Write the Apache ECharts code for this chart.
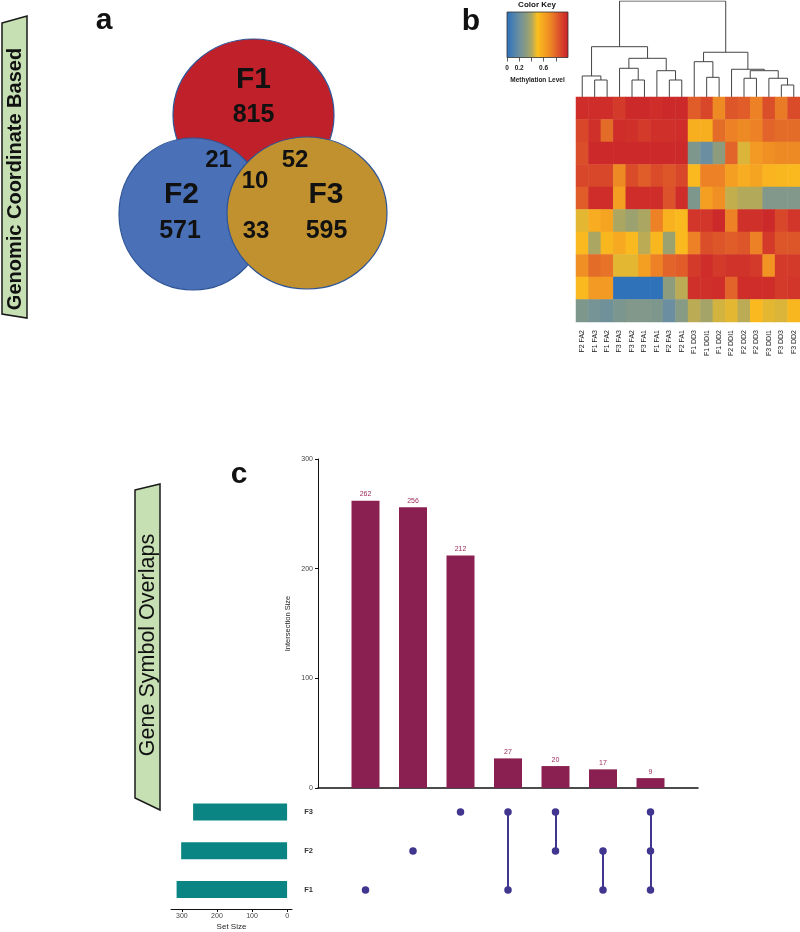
<!DOCTYPE html>
<html><head><meta charset="utf-8">
<script src="https://cdn.jsdelivr.net/npm/echarts@6/dist/echarts.min.js"></script>
<style>html,body{margin:0;padding:0;background:#fff}#c{width:800px;height:932px}</style>
</head><body><div id="c"></div>
<script>
const FONT = '"Liberation Sans", Arial, Helvetica, sans-serif';

// ---------- Panel a : Venn counts ----------
const vennSets = ['F1', 'F2', 'F3'];
const vennUnique = [815, 571, 595];
const vennF1F2 = 21;
const vennF1F3 = 52;
const vennF2F3 = 33;
const vennAll = 10;

// ---------- Panel b : methylation heatmap ----------
const hmColumns = ['F2 FA2','F1 FA3','F1 FA2','F3 FA3','F3 FA2','F3 FA1','F1 FA1','F2 FA3','F2 FA1',
                   'F1 DD3','F1 DDI1','F1 DD2','F2 DDI1','F2 DD2','F2 DD3','F3 DDI1','F3 DD3','F3 DD2'];
const hmRows = ['R1','R2','R3','R4','R5','R6','R7','R8','R9','R10'];
const hmValues = [
  [0.96,0.96,0.96,0.92,0.97,0.97,0.96,0.97,0.97, 0.82,0.88,0.70,0.84,0.82,0.72,0.86,0.74,0.87],
  [0.88,0.95,0.78,0.96,0.95,0.92,0.95,0.95,0.96, 0.56,0.56,0.78,0.72,0.70,0.72,0.80,0.78,0.78],
  [0.86,0.97,0.97,0.97,0.97,0.97,0.97,0.97,0.97, 0.27,0.20,0.32,0.80,0.46,0.64,0.68,0.70,0.70],
  [0.88,0.88,0.88,0.70,0.87,0.82,0.87,0.84,0.88, 0.52,0.72,0.72,0.62,0.57,0.60,0.54,0.53,0.52],
  [0.82,0.96,0.96,0.62,0.96,0.96,0.96,0.85,0.96, 0.27,0.62,0.68,0.43,0.41,0.41,0.28,0.28,0.28],
  [0.47,0.57,0.60,0.40,0.36,0.40,0.72,0.55,0.52, 0.93,0.93,0.97,0.72,0.95,0.95,0.97,0.88,0.93],
  [0.52,0.40,0.53,0.58,0.52,0.42,0.53,0.36,0.52, 0.72,0.86,0.84,0.82,0.84,0.72,0.92,0.84,0.84],
  [0.68,0.78,0.76,0.47,0.47,0.62,0.72,0.80,0.82, 0.92,0.96,0.92,0.94,0.94,0.92,0.66,0.92,0.92],
  [0.52,0.64,0.64,0.02,0.02,0.02,0.02,0.32,0.42, 0.95,0.95,0.96,0.80,0.96,0.96,0.96,0.92,0.93],
  [0.27,0.24,0.22,0.26,0.28,0.28,0.27,0.20,0.30, 0.42,0.38,0.45,0.47,0.42,0.52,0.47,0.46,0.53]
];
// hclust-style merges: negative = leaf (1-based column), positive = earlier merge; third = height
const dendroMerges = [
  [-2, -3, 17.7], [-1, 1, 21.9], [-5, -6, 17.7], [-4, 3, 29.9], [-8, -9, 17.7], [-7, 5, 27.4],
  [4, 6, 40.3], [2, 7, 52.4], [-11, -12, 20.5], [-10, 9, 36.8], [-14, -15, 19.5], [-17, -18, 12.5],
  [-16, 12, 19.5], [11, 13, 27.4], [-13, 14, 28.9], [10, 15, 46.6], [8, 16, 100]
];
const colorKeyColors = ['#2a6fbb','#4a80b0','#6b8fa0','#869a84','#aba662','#fbbf1e','#f5a422','#ee8a24','#e2642a','#d6402a','#c8202a'];
const colorKeyRange = [0, 1];
const colorKeyTicks = [0, 0.2, 0.4, 0.6, 0.8];
const colorKeyLabels = [0, 0.2, 0.6];

// ---------- Panel c : UpSet ----------
const upsetSets = ['F1', 'F2', 'F3'];
const setSizes = [315, 302, 268];
const intersectionSizes = [262, 256, 212, 27, 20, 17, 9];
const intersectionMembers = [['F1'], ['F2'], ['F3'], ['F1','F3'], ['F2','F3'], ['F1','F2'], ['F1','F2','F3']];
const intersectionTicks = [0, 100, 200, 300];
const setSizeTicks = [0, 100, 200, 300];

// ---------- build ----------
function dendroSegments(merges) {
  const pos = [], hgt = [], segs = [];
  const nx = n => n < 0 ? (-n - 1) : pos[n - 1];
  const nh = n => n < 0 ? 0 : hgt[n - 1];
  merges.forEach(([a, b, h]) => {
    const xa = nx(a), xb = nx(b);
    segs.push({ coords: [[xa, nh(a)], [xa, h], [xb, h], [xb, nh(b)]] });
    pos.push((xa + xb) / 2); hgt.push(h);
  });
  return segs;
}
const hmData = [];
hmValues.forEach((row, r) => row.forEach((v, c) => hmData.push([c, r, v])));

const dotData = [], linkData = [];
intersectionMembers.forEach((m, i) => {
  const idx = m.map(s => upsetSets.indexOf(s));
  idx.forEach(k => dotData.push([i + 1, k]));
  if (idx.length > 1) linkData.push({ coords: [[i + 1, Math.min(...idx)], [i + 1, Math.max(...idx)]] });
});

const keyStops = colorKeyColors.map((c, i) => ({ offset: i / (colorKeyColors.length - 1), color: c }));

function txt(text, x, y, size, opts) {
  opts = opts || {};
  return {
    type: 'text', x: x, y: y, rotation: opts.rot || 0, z: 100,
    style: { text: text, fill: opts.fill || '#111', font: (opts.weight || 'bold') + ' ' + size + 'px ' + FONT,
             align: 'center', verticalAlign: 'middle' }
  };
}

const vennLayout = [
  { cx: 253.5, cy: 115, rx: 80.5, ry: 76, fill: '#c0202a' },
  { cx: 193, cy: 214, rx: 74, ry: 76, fill: '#4a71b8' },
  { cx: 307, cy: 213, rx: 80, ry: 76, fill: '#c0912e' }
];

const graphics = [
  // banners
  { type: 'polygon', z: 1, shape: { points: [[2, 23], [27, 16], [27, 318], [2, 314]] },
    style: { fill: '#c6e0b4', stroke: '#1a1a1a', lineWidth: 1.5 } },
  txt('Genomic Coordinate Based', 15, 179, 20, { rot: Math.PI / 2 }),
  { type: 'polygon', z: 1, shape: { points: [[135, 490], [160, 484], [160, 810], [135, 798]] },
    style: { fill: '#c6e0b4', stroke: '#1a1a1a', lineWidth: 1.5 } },
  txt('Gene Symbol Overlaps', 148, 645, 21.5, { rot: Math.PI / 2, weight: 'normal' }),
  // panel letters
  txt('a', 104, 21, 30), txt('b', 471, 21.5, 30), txt('c', 239, 474.5, 30),
  // color key titles
  txt('Color Key', 537, 4.5, 8),
];
vennLayout.forEach(v => graphics.push({
  type: 'ellipse', z: 10, shape: { cx: v.cx, cy: v.cy, rx: v.rx, ry: v.ry },
  style: { fill: v.fill, stroke: '#2f5597', lineWidth: 1.2 }
}));
graphics.push(
  txt(vennSets[0], 253.5, 80, 30), txt(String(vennUnique[0]), 253.5, 115, 25),
  txt(vennSets[1], 181.5, 195, 30), txt(String(vennUnique[1]), 180, 231.5, 25),
  txt(vennSets[2], 326, 195, 30), txt(String(vennUnique[2]), 326.5, 231.5, 25),
  txt(String(vennF1F2), 218.5, 160, 24), txt(String(vennF1F3), 295, 160.5, 24),
  txt(String(vennAll), 255, 181.5, 24), txt(String(vennF2F3), 256, 231.5, 24)
);

const axLbl = { fontFamily: FONT, color: '#444', fontSize: 7 };
const blackLine = { show: true, lineStyle: { color: '#111', width: 1 } };

const option = {
  animation: false,
  textStyle: { fontFamily: FONT },
  grid: [
    { left: 576, top: 1, width: 225, height: 96 },
    { left: 576, top: 97, width: 225, height: 225 },
    { left: 507, top: 12, width: 61, height: 45.5 },
    { left: 318, top: 459, width: 380, height: 329 },
    { left: 318, top: 792.5, width: 380, height: 117 },
    { left: 171, top: 792.5, width: 121, height: 117 }
  ],
  xAxis: [
    { gridIndex: 0, type: 'value', min: -0.5, max: 17.5, show: false },
    { gridIndex: 1, type: 'category', data: hmColumns, axisLine: { show: false }, axisTick: { show: false },
      splitLine: { show: false },
      axisLabel: { rotate: 90, interval: 0, fontSize: 7, color: '#222', margin: 8, fontFamily: FONT } },
    { gridIndex: 2, type: 'value', min: colorKeyRange[0], max: colorKeyRange[1], axisLine: { show: false },
      splitLine: { show: false },
      axisTick: { show: true, customValues: colorKeyTicks, length: 4, lineStyle: { color: '#333', width: 0.8 } },
      axisLabel: { customValues: colorKeyLabels, fontSize: 6.5, fontWeight: 'bold', color: '#222', margin: 7, fontFamily: FONT },
      name: 'Methylation Level', nameLocation: 'middle', nameGap: 19,
      nameTextStyle: { fontSize: 6.5, fontWeight: 'bold', color: '#222', fontFamily: FONT } },
    { gridIndex: 3, type: 'value', min: 0, max: 8, axisLine: { show: true, lineStyle: { color: '#111', width: 1.5 } },
      axisTick: { show: false }, axisLabel: { show: false }, splitLine: { show: false } },
    { gridIndex: 4, type: 'value', min: 0, max: 8, show: false },
    { gridIndex: 5, type: 'value', inverse: true, min: -14, max: 331, axisLine: blackLine,
      splitLine: { show: false },
      axisTick: { show: true, customValues: setSizeTicks, length: 3, lineStyle: { color: '#111' } },
      axisLabel: Object.assign({ customValues: setSizeTicks, margin: 4 }, axLbl),
      name: 'Set Size', nameLocation: 'middle', nameGap: 14,
      nameTextStyle: { fontSize: 8, color: '#222', fontFamily: FONT } }
  ],
  yAxis: [
    { gridIndex: 0, type: 'value', min: 0, max: 100, show: false },
    { gridIndex: 1, type: 'category', data: hmRows, inverse: true, show: false },
    { gridIndex: 2, type: 'value', min: 0, max: 1, show: false },
    { gridIndex: 3, type: 'value', min: 0, max: 300, interval: 100, axisLine: blackLine,
      axisTick: { show: true, length: 3, lineStyle: { color: '#111' } },
      axisLabel: Object.assign({ margin: 5 }, axLbl), splitLine: { show: false },
      name: 'Intersection Size', nameLocation: 'middle', nameGap: 26,
      nameTextStyle: { fontSize: 7.5, color: '#222', fontFamily: FONT } },
    { gridIndex: 4, type: 'category', data: upsetSets, axisLine: { show: false }, axisTick: { show: false },
      splitLine: { show: false },
      axisLabel: { fontSize: 7.5, color: '#333', fontWeight: 'bold', margin: 5, fontFamily: FONT } },
    { gridIndex: 5, type: 'category', data: upsetSets, show: false }
  ],
  visualMap: {
    type: 'continuous', show: false, seriesIndex: 1, min: colorKeyRange[0], max: colorKeyRange[1],
    inRange: { color: colorKeyColors }
  },
  series: [
    { type: 'lines', coordinateSystem: 'cartesian2d', xAxisIndex: 0, yAxisIndex: 0, polyline: true, silent: true,
      data: dendroSegments(dendroMerges), lineStyle: { color: '#444', width: 1, opacity: 1 } },
    { type: 'heatmap', xAxisIndex: 1, yAxisIndex: 1, data: hmData, silent: true,
      itemStyle: { borderWidth: 0 } },
    { type: 'custom', xAxisIndex: 2, yAxisIndex: 2, silent: true, clip: false, data: [colorKeyRange],
      renderItem: (params, api) => {
        const p0 = api.coord([api.value(0), 0]);
        const p1 = api.coord([api.value(1), 1]);
        return { type: 'rect', shape: { x: p0[0], y: p1[1], width: p1[0] - p0[0], height: p0[1] - p1[1] },
          style: { fill: new echarts.graphic.LinearGradient(0, 0, 1, 0, keyStops), stroke: '#333', lineWidth: 0.8 } };
      } },
    { type: 'bar', xAxisIndex: 3, yAxisIndex: 3, barWidth: 28, silent: true,
      data: intersectionSizes.map((v, i) => [i + 1, v]),
      itemStyle: { color: '#8a2051' },
      label: { show: true, position: 'top', distance: 3, fontSize: 7, color: '#9b2a5a', fontFamily: FONT,
               formatter: p => p.value[1] } },
    { type: 'lines', coordinateSystem: 'cartesian2d', xAxisIndex: 4, yAxisIndex: 4, silent: true, z: 3,
      data: linkData, lineStyle: { color: '#40358f', width: 2, opacity: 1 } },
    { type: 'scatter', xAxisIndex: 4, yAxisIndex: 4, silent: true, z: 4, symbolSize: 7.5,
      data: dotData, itemStyle: { color: '#40358f', opacity: 1 } },
    { type: 'bar', xAxisIndex: 5, yAxisIndex: 5, barWidth: 17, silent: true,
      data: setSizes, itemStyle: { color: '#0a8583' } }
  ],
  graphic: { elements: graphics }
};

const chart = echarts.init(document.getElementById('c'), null, { renderer: 'canvas', width: 800, height: 932 });
chart.setOption(option);
</script>
</body></html>
